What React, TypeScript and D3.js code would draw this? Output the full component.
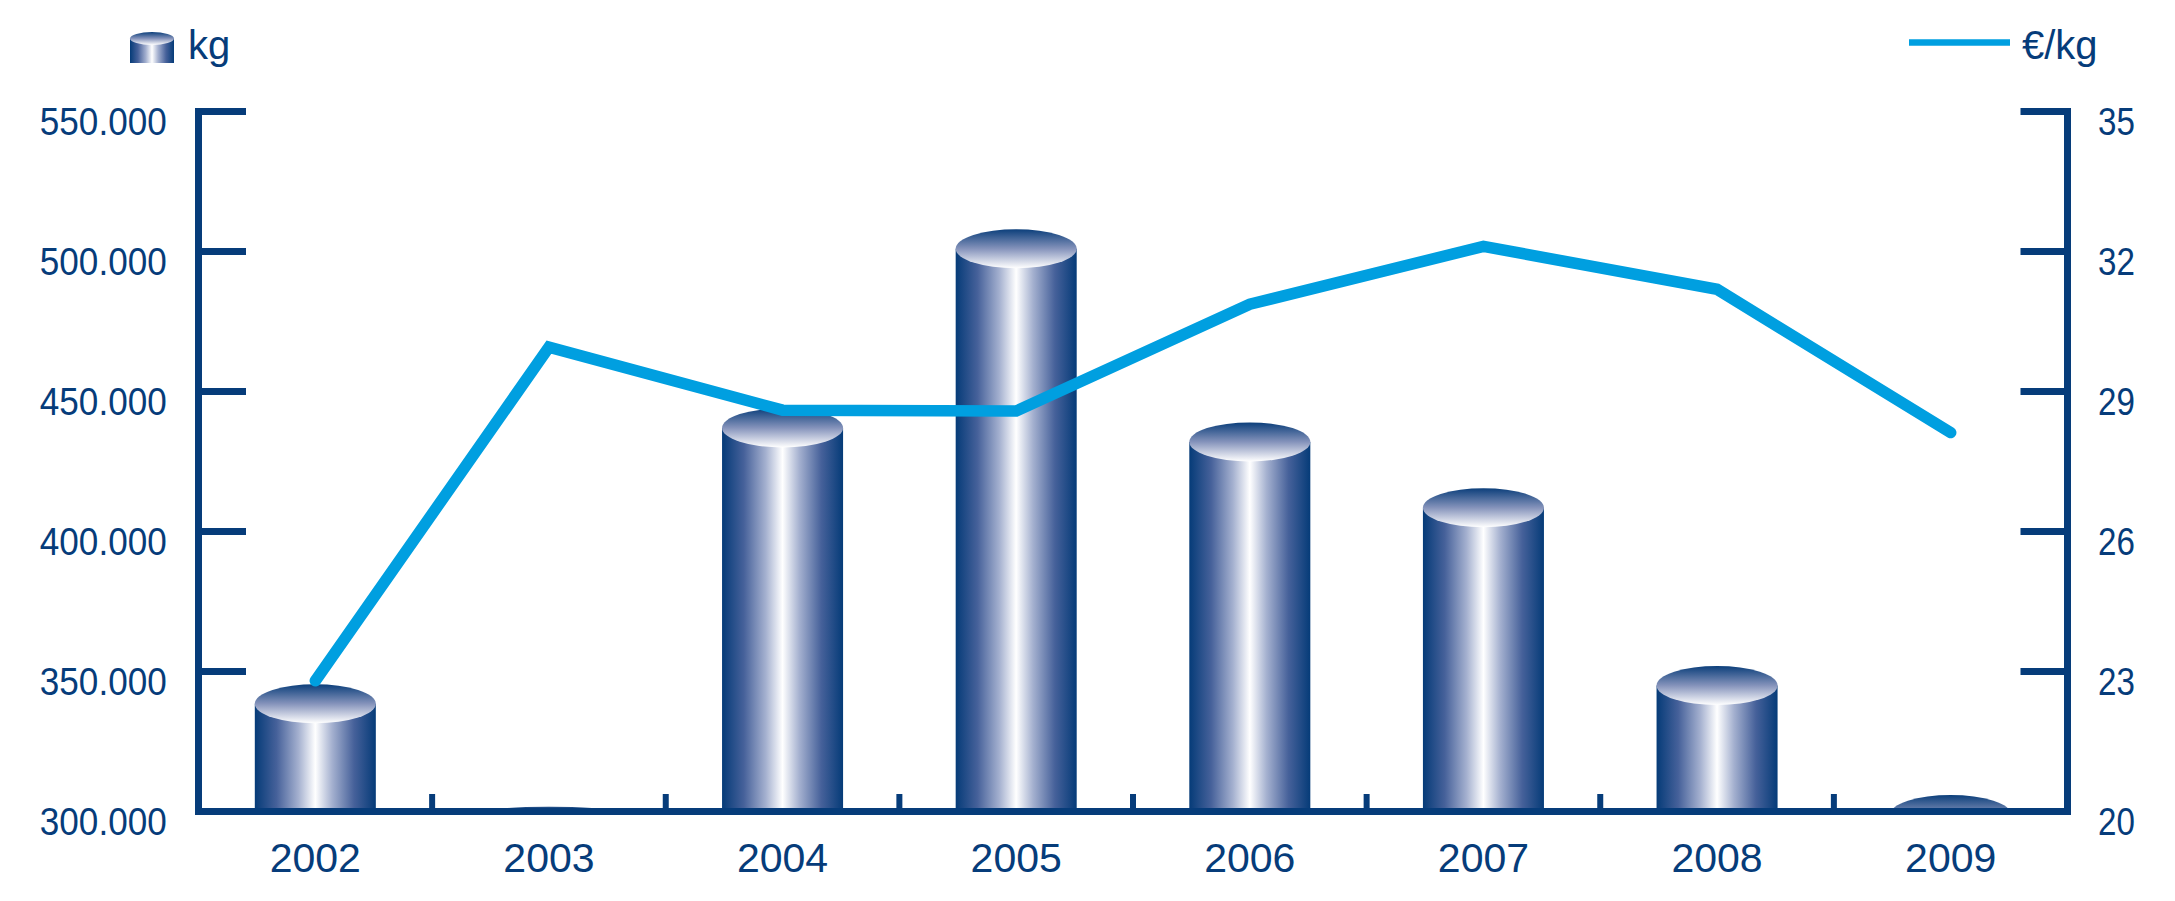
import React from "react";
import * as d3 from "d3";

const years = ["2002", "2003", "2004", "2005", "2006", "2007", "2008", "2009"];
const kgValues = [338500, 285000, 437000, 501000, 432000, 408500, 345000, 298900];
const priceValues = [22.8, 29.95, 28.6, 28.58, 30.87, 32.11, 31.19, 28.12];
const kgTicks = [300000, 350000, 400000, 450000, 500000, 550000];
const priceTicks = [20, 23, 26, 29, 32, 35];
const legendKg = "kg";
const legendPrice = "€/kg";

const W = 2175;
const H = 901;
const NAVY = "#063c7a";
const LIGHT = "#009fe0";
const FONT = "'Liberation Sans', Arial, Helvetica, sans-serif";

const left = 198.5;
const right = 2067.5;
const top = 111.5;
const bottom = 811.5;

const locale = d3.formatLocale({ decimal: ",", thousands: ".", grouping: [3], currency: ["", "€"] });
const fmt = locale.format(",");

export default function App() {
  const x = d3.scaleBand<string>().domain(years).range([left, right]).paddingInner(0.482).paddingOuter(0.241);
  const y = d3.scaleLinear().domain([300000, 550000]).range([bottom, top]);
  const y2 = d3.scaleLinear().domain([20, 35]).range([bottom, top]);
  const bw = x.bandwidth();
  const rx = bw / 2;
  const ry = 19.5;
  const cx = (d: string) => (x(d) as number) + bw / 2;

  const line = d3
    .line<number>()
    .x((_, i) => cx(years[i]))
    .y((d) => y2(d));

  const boundaries = d3.range(1, years.length).map((i) => left + (i * (right - left)) / years.length);

  return (
    <svg width={W} height={H} style={{ position: "absolute", left: 0, top: 0, background: "#fff" }}>
      <defs>
        <linearGradient id="body" x1="0" y1="0" x2="1" y2="0">
          <stop offset="0" stopColor="#053b78" />
          <stop offset="0.18" stopColor="#46619a" />
          <stop offset="0.36" stopColor="#a4b0cf" />
          <stop offset="0.5" stopColor="#ffffff" />
          <stop offset="0.64" stopColor="#a4b0cf" />
          <stop offset="0.82" stopColor="#46619a" />
          <stop offset="1" stopColor="#053b78" />
        </linearGradient>
        <linearGradient id="cap" x1="0" y1="0" x2="0" y2="1">
          <stop offset="0" stopColor="#0c3f7b" />
          <stop offset="0.5" stopColor="#8593bb" />
          <stop offset="1" stopColor="#ffffff" />
        </linearGradient>
        <clipPath id="plotClip">
          <rect x={0} y={0} width={W} height={bottom} />
        </clipPath>
      </defs>

      {/* legend */}
      <g>
        <rect x={130} y={38.5} width={44} height={24.5} fill="url(#body)" />
        <ellipse cx={152} cy={38.5} rx={22} ry={6.5} fill="url(#cap)" />
        <text x={188} y={59} fontFamily={FONT} fontSize={40} fill={NAVY}>
          {legendKg}
        </text>
        <line x1={1909} x2={2010} y1={42.5} y2={42.5} stroke={LIGHT} strokeWidth={6.5} />
        <text x={2022} y={59} fontFamily={FONT} fontSize={40} fill={NAVY}>
          {legendPrice}
        </text>
      </g>

      {/* bars */}
      <g clipPath="url(#plotClip)">
        {years.map((yr, i) => {
          const v = kgValues[i];
          const yt = y(v);
          const x0 = x(yr) as number;
          const h = Math.max(0, bottom - yt);
          return (
            <g key={yr}>
              <ellipse cx={cx(yr)} cy={bottom} rx={rx} ry={4.8} fill="url(#cap)" />
              {h > 0 && <rect x={x0} y={yt} width={bw} height={h} fill="url(#body)" />}
              <ellipse cx={cx(yr)} cy={yt} rx={rx} ry={ry} fill="url(#cap)" />
            </g>
          );
        })}
      </g>

      {/* axes */}
      <g stroke={NAVY} strokeWidth={7} fill="none">
        <line x1={left} x2={left} y1={top - 3.5} y2={bottom + 3.5} />
        <line x1={right} x2={right} y1={top - 3.5} y2={bottom + 3.5} />
        <line x1={left - 3.5} x2={right + 3.5} y1={bottom} y2={bottom} />
        {kgTicks.map((t) => (
          <line key={"l" + t} x1={left - 3.5} x2={left + 47.5} y1={y(t)} y2={y(t)} />
        ))}
        {priceTicks.map((t) => (
          <line key={"r" + t} x1={right - 47} x2={right + 3.5} y1={y2(t)} y2={y2(t)} />
        ))}
        {boundaries.map((b, i) => (
          <line key={"b" + i} x1={b} x2={b} y1={bottom - 17.5} y2={bottom} strokeWidth={6} />
        ))}
      </g>

      {/* line series */}
      <path
        d={line(priceValues) || ""}
        fill="none"
        stroke={LIGHT}
        strokeWidth={11.5}
        strokeLinejoin="miter"
        strokeLinecap="round"
      />

      {/* tick labels */}
      <g fontFamily={FONT} fontSize={39} fill={NAVY}>
        {kgTicks.map((t) => (
          <text key={"lt" + t} transform={`translate(166.7, ${y(t) + 23.5}) scale(0.9, 1)`} textAnchor="end">
            {fmt(t)}
          </text>
        ))}
        {priceTicks.map((t) => (
          <text key={"rt" + t} transform={`translate(2098, ${y2(t) + 23.5}) scale(0.85, 1)`} textAnchor="start">
            {t}
          </text>
        ))}
      </g>
      <g fontFamily={FONT} fontSize={41} fill={NAVY}>
        {years.map((yr) => (
          <text key={"x" + yr} x={cx(yr)} y={872} textAnchor="middle">
            {yr}
          </text>
        ))}
      </g>
    </svg>
  );
}
